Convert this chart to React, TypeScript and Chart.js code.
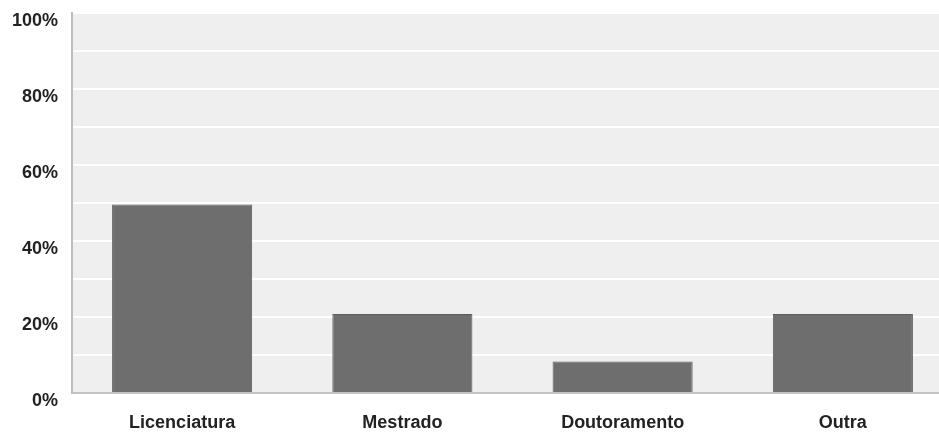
import React, { useEffect, useRef } from "react";
import { Chart, registerables } from "chart.js";

Chart.register(...registerables);

const categories = ["Licenciatura", "Mestrado", "Doutoramento", "Outra"];
const values = [49.6, 20.8, 8.3, 20.8];
const yTickLabels = [0, 20, 40, 60, 80, 100];

const plotBg = {
  id: "plotBg",
  beforeDraw(chart: any) {
    const { ctx, chartArea } = chart;
    ctx.save();
    ctx.fillStyle = "#efefef";
    ctx.fillRect(chartArea.left, chartArea.top, chartArea.right - chartArea.left, chartArea.bottom - chartArea.top);
    ctx.restore();
  },
};

const fontSpec = { family: "'Liberation Sans', Arial, sans-serif", size: 18, weight: "bold" as const };

export default function App() {
  const ref = useRef<HTMLCanvasElement | null>(null);
  useEffect(() => {
    document.body.style.margin = "0";
    document.body.style.overflow = "hidden";
    const chart = new Chart(ref.current!, {
      type: "bar",
      data: {
        labels: categories,
        datasets: [
          {
            data: values,
            backgroundColor: "#6e6e6e",
            borderColor: "#5c5c5c",
            borderWidth: 1,
            categoryPercentage: 1,
            barPercentage: 0.636,
          },
        ],
      },
      options: {
        animation: false,
        responsive: false,
        maintainAspectRatio: false,
        layout: { padding: { top: 13, right: 7, left: 0, bottom: 0 } },
        plugins: { legend: { display: false }, tooltip: { enabled: false } },
        scales: {
          x: {
            grid: { display: false, drawTicks: false },
            border: { color: "#c4c4c4", width: 2 },
            ticks: {
              color: "#222222",
              font: fontSpec,
              padding: 19,
              maxRotation: 0,
            },
            afterFit: (s: any) => {
              s.height = 41;
              s.paddingLeft = 0;
              s.paddingRight = 0;
            },
          },
          y: {
            min: 0,
            max: 100,
            grid: { color: "#ffffff", lineWidth: 2, drawTicks: false },
            border: { color: "#bdbdbd", width: 2 },
            ticks: {
              stepSize: 10,
              color: "#222222",
              padding: 14,
              labelOffset: 8,
              font: fontSpec,
              callback: (v: any) => (yTickLabels.includes(Number(v)) ? v + "%" : ""),
            },
            afterFit: (s: any) => {
              s.width = 72;
              s.paddingTop = 0;
              s.paddingBottom = 0;
            },
          },
        },
      },
      plugins: [plotBg],
    });
    return () => chart.destroy();
  }, []);
  return (
    <div style={{ position: "absolute", left: 0, top: 0, width: 960, height: 434 }}>
      <canvas ref={ref} width={960} height={434} style={{ display: "block" }} />
    </div>
  );
}
